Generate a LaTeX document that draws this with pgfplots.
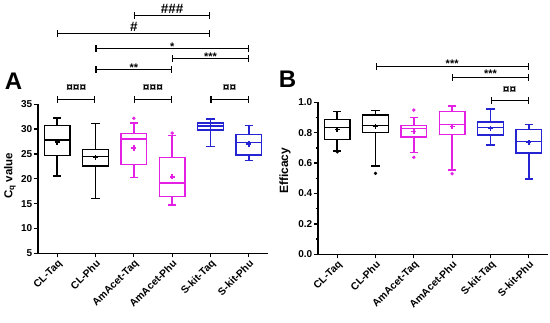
\documentclass[border=0pt]{standalone}
\usepackage{pgfplots}
\pgfplotsset{compat=1.18}
\usepgfplotslibrary{statistics}
\usetikzlibrary{arrows.meta}
\usepackage{fontspec}
\setmainfont{Liberation Sans}
\definecolor{mag}{RGB}{228,32,228}
\definecolor{blu}{RGB}{36,36,210}

\pgfplotsset{
  panel/.style={
    scale only axis, width=230pt,
    axis lines=left, axis line style={line width=1.3pt, -},
    xmin=0.5, xmax=6.5,
    xtick={1,2,3,4,5,6},
    xticklabels={CL-Taq,CL-Phu,AmAcet-Taq,AmAcet-Phu,S-kit-Taq,S-kit-Phu},
    x tick label style={rotate=45, anchor=north east, font=\bfseries\fontsize{10.3}{11}\selectfont, inner sep=1pt},
    y tick label style={font=\bfseries\fontsize{10}{11}\selectfont, inner sep=1.5pt},
    tick style={line width=1.3pt, black},
    tick align=outside, major tick length=4pt, minor tick length=2.5pt,
    /pgf/number format/assume math mode=true,
    clip=false,
    boxplot/draw direction=y,
    boxplot/box extend=0.67,
    boxplot/whisker extend=0.22,
    ylabel style={font=\bfseries\fontsize{11.5}{12}\selectfont, anchor=center},
  },
  bx/.style={line width=1.5pt, draw=#1, solid, fill=none},
  mn/.style={only marks, mark=+, mark size=2.6pt, line width=1.4pt, color=#1},
  ol/.style={only marks, mark=*, mark size=1.5pt, color=#1},
  br/.style={black, line width=1.3pt, {Bar[width=7pt,line width=1.3pt]}-{Bar[width=7pt,line width=1.3pt]}},
}

\begin{document}
\begin{tikzpicture}
\useasboundingbox (0,0) rectangle (550pt,-322pt);

% ---------------- Panel A ----------------
\begin{axis}[panel, at={(38pt,-253.3pt)}, anchor=south west, height=149pt,
  ymin=5, ymax=35, ytick={5,10,15,20,25,30,35},
  ylabel={C\textsubscript{q} value},
  ylabel style={at={(axis description cs:-0.122,0.52)}}]
  % CL-Taq
  \addplot[bx=black, boxplot prepared={draw position=1, lower whisker=20.6, lower quartile=24.7, median=27.8, upper quartile=30.7, upper whisker=32.2}] coordinates {};
  \addplot[mn=black] coordinates {(1,27.4)};
  % CL-Phu
  \addplot[bx=black, boxplot prepared={draw position=2, lower whisker=16.0, lower quartile=22.6, median=24.5, upper quartile=25.9, upper whisker=31.1}] coordinates {};
  \addplot[mn=black] coordinates {(2,24.3)};
  % AmAcet-Taq
  \addplot[bx=mag, boxplot prepared={draw position=3, lower whisker=20.3, lower quartile=22.9, median=28.0, upper quartile=29.1, upper whisker=31.2}] coordinates {};
  \addplot[mn=mag] coordinates {(3,26.2)};
  \addplot[ol=mag] coordinates {(3,32.2)};
  % AmAcet-Phu
  \addplot[bx=mag, boxplot prepared={draw position=4, lower whisker=14.7, lower quartile=16.4, median=19.2, upper quartile=24.3, upper whisker=28.7}] coordinates {};
  \addplot[mn=mag] coordinates {(4,20.4)};
  \addplot[ol=mag] coordinates {(4,29.2)};
  % S-kit-Taq
  \addplot[bx=blu, boxplot prepared={draw position=5, lower whisker=26.5, lower quartile=29.8, median=30.6, upper quartile=31.2, upper whisker=32.0}] coordinates {};
  \addplot[mn=blu] coordinates {(5,30.5)};
  % S-kit-Phu
  \addplot[bx=blu, boxplot prepared={draw position=6, lower whisker=23.7, lower quartile=24.8, median=27.3, upper quartile=28.9, upper whisker=30.7}] coordinates {};
  \addplot[mn=blu] coordinates {(6,27.0)};

  % significance brackets
  \addplot[br] coordinates {(1,36) (2,36)};
  \addplot[br] coordinates {(3,36) (4,36)};
  \addplot[br] coordinates {(5,36) (6,36)};
  \addplot[br] coordinates {(2,42) (4,42)};
  \addplot[br] coordinates {(4,44.2) (6,44.2)};
  \addplot[br] coordinates {(2,46.3) (6,46.3)};
  \addplot[br] coordinates {(1,49.3) (5,49.3)};
  \addplot[br] coordinates {(3,52.9) (5,52.9)};
  \node[anchor=base, font=\bfseries\fontsize{12}{13}\selectfont] at (axis cs:1.5,37.6) {¤¤¤};
  \node[anchor=base, font=\bfseries\fontsize{12}{13}\selectfont] at (axis cs:3.5,37.6) {¤¤¤};
  \node[anchor=base, font=\bfseries\fontsize{12}{13}\selectfont] at (axis cs:5.5,37.6) {¤¤};
  \node[anchor=base, font=\bfseries\fontsize{11}{12}\selectfont] at (axis cs:3,41.6) {**};
  \node[anchor=base, font=\bfseries\fontsize{11}{12}\selectfont] at (axis cs:5,43.8) {***};
  \node[anchor=base, font=\bfseries\fontsize{11}{12}\selectfont] at (axis cs:4,45.9) {*};
  \node[anchor=base, font=\bfseries\fontsize{13.5}{14}\selectfont] at (axis cs:3,49.6) {\#};
  \node[anchor=base, font=\bfseries\fontsize{13.5}{14}\selectfont] at (axis cs:4,53.2) {\#\#\#};
\end{axis}

% ---------------- Panel B ----------------
\begin{axis}[panel, at={(318pt,-254.3pt)}, anchor=south west, height=152pt,
  ymin=0, ymax=1, ytick={0,0.2,0.4,0.6,0.8,1.0}, minor y tick num=1,
  yticklabel style={/pgf/number format/.cd, fixed, fixed zerofill, precision=1},
  ylabel={Efficacy},
  ylabel style={at={(axis description cs:-0.143,0.55)}, font=\bfseries\fontsize{12}{13}\selectfont}]
  % CL-Taq
  \addplot[bx=black, boxplot prepared={draw position=1, lower whisker=0.680, lower quartile=0.754, median=0.833, upper quartile=0.888, upper whisker=0.938}] coordinates {};
  \addplot[mn=black] coordinates {(1,0.820)};
  \addplot[ol=black] coordinates {(1,0.674)};
  % CL-Phu
  \addplot[bx=black, boxplot prepared={draw position=2, lower whisker=0.581, lower quartile=0.800, median=0.846, upper quartile=0.916, upper whisker=0.945}] coordinates {};
  \addplot[mn=black] coordinates {(2,0.842)};
  \addplot[ol=black] coordinates {(2,0.533)};
  % AmAcet-Taq
  \addplot[bx=mag, boxplot prepared={draw position=3, lower whisker=0.671, lower quartile=0.772, median=0.829, upper quartile=0.846, upper whisker=0.901}] coordinates {};
  \addplot[mn=mag] coordinates {(3,0.807)};
  \addplot[ol=mag] coordinates {(3,0.949) (3,0.638)};
  % AmAcet-Phu
  \addplot[bx=mag, boxplot prepared={draw position=4, lower whisker=0.555, lower quartile=0.789, median=0.855, upper quartile=0.938, upper whisker=0.976}] coordinates {};
  \addplot[mn=mag] coordinates {(4,0.842)};
  \addplot[ol=mag] coordinates {(4,0.530)};
  % S-kit-Taq
  \addplot[bx=blu, boxplot prepared={draw position=5, lower whisker=0.719, lower quartile=0.785, median=0.833, upper quartile=0.872, upper whisker=0.956}] coordinates {};
  \addplot[mn=blu] coordinates {(5,0.830)};
  % S-kit-Phu
  \addplot[bx=blu, boxplot prepared={draw position=6, lower whisker=0.495, lower quartile=0.668, median=0.741, upper quartile=0.822, upper whisker=0.855}] coordinates {};
  \addplot[mn=blu] coordinates {(6,0.737)};

  % significance brackets
  \addplot[br] coordinates {(5,1.012) (6,1.012)};
  \addplot[br] coordinates {(4,1.164) (6,1.164)};
  \addplot[br] coordinates {(2,1.234) (6,1.234)};
  \node[anchor=base, font=\bfseries\fontsize{12}{13}\selectfont] at (axis cs:5.5,1.06) {¤¤};
  \node[anchor=base, font=\bfseries\fontsize{11}{12}\selectfont] at (axis cs:5,1.161) {***};
  \node[anchor=base, font=\bfseries\fontsize{11}{12}\selectfont] at (axis cs:4,1.231) {***};
\end{axis}

% panel letters
\node[font=\bfseries\fontsize{24}{26}\selectfont] at (13.5pt,-81pt) {A};
\node[font=\bfseries\fontsize{24}{26}\selectfont] at (287.5pt,-79.5pt) {B};
\end{tikzpicture}
\end{document}
